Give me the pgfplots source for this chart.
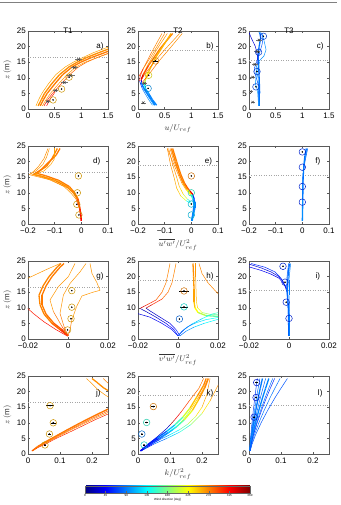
\documentclass[border=0pt]{standalone}
\usepackage{fontspec}
\setmainfont{Liberation Sans}
\usepackage{pgfplots}
\pgfplotsset{compat=1.18}

\tikzset{plab/.style={font=\fontsize{8}{9}\selectfont}}
\pgfplotsset{
  panel/.style={
    scale only axis, width=80pt, height=78pt,
    ymin=0, ymax=25, ytick={0,5,10,15,20,25},
    tick align=inside, major tick length=2pt,
    axis line style={black!65, line width=0.4pt},
    every tick/.style={black!65, line width=0.4pt},
    tick label style={font=\fontsize{8}{9}\selectfont},
    xticklabel style={inner sep=3.5pt},
    yticklabel style={inner sep=2pt},
    label style={font=\fontsize{8}{9}\selectfont, text=black!80},
    xlabel style={inner sep=1pt, yshift=-1pt},
    title style={font=\fontsize{8}{9}\selectfont, yshift=-12pt},
    scaled ticks=false,
    /pgf/number format/assume math mode=true,
    colormap/jet, point meta min=0, point meta max=360,
    anchor=south west,
  },
  rowU/.style={xmin=0, xmax=1.5, xtick={0,0.5,1,1.5}, xticklabels={0,0.5,1,1.5}},
  rowUW/.style={xmin=-0.2, xmax=0.1, xtick={-0.2,-0.1,0,0.1}, xticklabels={−0.2,−0.1,0,0.1}},
  rowVW/.style={xmin=-0.02, xmax=0.02, xtick={-0.02,0,0.02}, xticklabels={−0.02,0,0.02}},
  rowK/.style={xmin=0, xmax=0.25, xtick={0,0.1,0.2}, xticklabels={0,0.1,0.2}},
  cv/.style={mesh, shader=flat corner, point meta=explicit, line width=0.5pt, no markers},
  cvk/.style={cv, line width=1.3pt},
  hub/.style={black!35, dotted, line width=0.45pt, forget plot},
  obs/.style={scatter, only marks, mark=o, mark size=3.3pt, point meta=explicit,
    mark options={line width=0.5pt}},
  dot/.style={only marks, mark=*, mark size=0.55pt, black,
    error bars/.cd, x dir=both, x explicit, error mark=none,
    error bar style={black, line width=0.5pt}},
  cross/.style={only marks, mark=x, mark size=1.8pt, black!75,
    mark options={line width=0.5pt},
    error bars/.cd, x dir=both, x explicit, error mark=none,
    error bar style={black!55, line width=0.5pt}},
}

\begin{document}
\begin{tikzpicture}
\path[use as bounding box] (0pt,0pt) rectangle (340pt,505pt);
\draw[black!50, line width=0.6pt] (0pt,503pt) -- (337pt,503pt);

% ---------------- row 1: mean velocity ----------------
\begin{axis}[panel, rowU, at={(28pt,396pt)}, title={T1}, ylabel={$z\,(\mathrm{m})$}]
\addplot[hub] coordinates {(0,16.7) (1.5,16.7)};
\addplot[cv] coordinates {(0.15,1)[258] (0.20,3)[258] (0.26,5)[258] (0.38,8)[258] (0.52,11)[258] (0.70,13.5)[258] (0.85,15)[258] (1.03,16.5)[258] (1.22,18)[258] (1.45,19.5)[258] (1.7,21)[258]};
\addplot[cvk] coordinates {(0.19,1)[265] (0.25,3)[265] (0.31,5)[265] (0.44,8)[265] (0.59,11)[265] (0.77,13.5)[265] (0.92,15)[265] (1.10,16.5)[265] (1.32,18)[265] (1.55,19.5)[265]};
\addplot[cvk] coordinates {(0.23,1)[272] (0.29,3)[272] (0.36,5)[272] (0.50,8)[272] (0.65,11)[272] (0.83,13.5)[272] (0.99,15)[272] (1.19,16.5)[272] (1.43,18)[272] (1.65,19.5)[272]};
\addplot[cv] coordinates {(0.27,1)[262] (0.34,3)[262] (0.42,5)[262] (0.57,8)[262] (0.73,11)[262] (0.90,13.5)[262] (1.07,15)[262] (1.30,16.5)[262] (1.55,18)[262]};
\addplot[cv] coordinates {(0.30,1)[312] (0.37,3)[305] (0.46,5)[295] (0.62,8)[285] (0.78,11)[280] (0.95,13.5)[278] (1.10,15)[275] (1.30,16.5)[275] (1.52,18)[275]};
\addplot[cv] coordinates {(0.35,1)[318] (0.39,2.5)[312] (0.45,4)[300] (0.51,5.5)[290]};
\addplot[obs] coordinates {(0.47,2.9)[250] (0.63,6.4)[250] (0.77,10.2)[250]};
\addplot[dot] coordinates {(0.47,2.9) (0.63,6.4) (0.77,10.2)};
\addplot[cross] coordinates {(0.37,2.4) +- (0.04,0) (0.52,5.9) +- (0.05,0) (0.68,8.5) +- (0.07,0) (0.80,10.7) +- (0.08,0) (0.87,13.3) +- (0.06,0) (0.95,15.9) +- (0.06,0)};
\node[plab] at (rel axis cs:0.9,0.8) {a)};
\end{axis}

\begin{axis}[panel, rowU, at={(138pt,396pt)}, title={T2}, xlabel={$u/U_{ref}$}]
\addplot[hub] coordinates {(0,18.7) (1.5,18.7)};
\addplot[cv] coordinates {(0.27,1.2)[95] (0.20,3)[92] (0.13,5)[88] (0.08,6.5)[60] (0.05,8)[20] (0.03,9)[330] (0.04,10.5)[300] (0.10,13)[275] (0.25,18)[268] (0.45,24.2)[265]};
\addplot[cv] coordinates {(0.30,1.2)[100] (0.23,3)[97] (0.16,5)[95] (0.10,6.5)[120] (0.07,8)[160] (0.07,9.5)[215] (0.09,11)[250] (0.18,14)[262] (0.35,19)[262] (0.55,24.2)[262]};
\addplot[cvk] coordinates {(0.32,1.2)[90] (0.25,3)[90] (0.17,5)[88] (0.10,7)[85] (0.06,8.5)[40] (0.06,9.5)[330] (0.10,11)[290] (0.20,14)[272] (0.42,19.5)[270] (0.65,24.2)[270]};
\addplot[cvk] coordinates {(0.35,1.2)[92] (0.27,3)[92] (0.20,5)[100] (0.14,6.5)[140] (0.12,8)[200] (0.14,9.5)[235] (0.20,12)[250] (0.35,17)[252] (0.62,24.2)[252]};
\addplot[cv] coordinates {(0.05,9)[300] (0.12,11)[275] (0.30,15)[268] (0.50,19)[265] (0.78,24.2)[265]};
\addplot[cv] coordinates {(0.08,8.5)[290] (0.20,11)[275] (0.40,15.5)[268] (0.60,19.5)[265] (0.83,24.2)[265]};
\addplot[cv] coordinates {(0.02,10.5)[290] (0.10,13)[270] (0.25,17)[265] (0.50,24.2)[262]};
\addplot[obs] coordinates {(0.33,15.4)[262] (0.20,10.8)[230] (0.19,6.6)[100]};
\addplot[dot] coordinates {(0.33,15.4) +- (0.04,0) (0.20,10.8) +- (0,0) (0.19,6.6) +- (0,0)};
\addplot[cross] coordinates {(0.12,8.2) +- (0.04,0) (0.10,2.0) +- (0.05,0)};
\node[plab] at (rel axis cs:0.9,0.8) {b)};
\end{axis}

\begin{axis}[panel, rowU, at={(249pt,396pt)}, title={T3}]
\addplot[hub] coordinates {(0,15.7) (1.5,15.7)};
\addplot[cvk] coordinates {(0.20,1)[85] (0.20,5)[85] (0.19,10)[85] (0.18,14)[85] (0.17,17)[85] (0.19,20)[85] (0.22,23)[85] (0.20,24.5)[85]};
\addplot[cv] coordinates {(0.19,1)[95] (0.18,6)[95] (0.17,10)[95] (0.13,13)[95] (0.17,15)[95] (0.28,17)[95] (0.32,19)[95] (0.28,22)[95] (0.24,24.3)[95] (0.18,24.5)[95]};
\addplot[cv] coordinates {(0.18,1)[75] (0.17,8)[75] (0.12,11)[75] (0.10,13)[75] (0.14,15)[75] (0.20,18)[75] (0.25,21)[75] (0.26,23.5)[75] (0.20,24.2)[75]};
\addplot[cv] coordinates {(0.00,24.5)[30] (0.05,22.5)[30] (0.12,20)[30] (0.16,17)[30] (0.17,14)[30]};
\addplot[cv] coordinates {(0.18,1)[100] (0.16,6)[100] (0.12,8)[100] (0.14,12)[100] (0.20,15)[100]};
\addplot[obs] coordinates {(0.27,23.3)[70] (0.18,18.2)[70] (0.15,12.0)[70] (0.13,7.1)[70]};
\addplot[dot] coordinates {(0.27,23.3) (0.18,18.2) (0.15,12.0) (0.13,7.1)};
\addplot[cross] coordinates {(0.07,2.2) +- (0.04,0) (0.03,5.6) +- (0.04,0) (0.07,10.2) +- (0.05,0) (0.11,14.3) +- (0.05,0) (0.15,18.4) +- (0.06,0) (0.19,22.1) +- (0.06,0)};
\node[plab] at (rel axis cs:0.89,0.8) {c)};
\end{axis}

% ---------------- row 2: u'w' ----------------
\begin{axis}[panel, rowUW, at={(28pt,281pt)}, ylabel={$z\,(\mathrm{m})$}]
\addplot[hub] coordinates {(-0.2,16.7) (0.1,16.7)};
\addplot[cvk] coordinates {(0,1)[310] (-0.002,3)[300] (-0.006,5)[285] (-0.015,8)[272] (-0.03,10)[270] (-0.055,12)[268] (-0.10,14)[268] (-0.15,15.3)[268] (-0.18,15.9)[268] (-0.16,16.8)[268] (-0.13,18.5)[268] (-0.11,21)[268] (-0.09,24.2)[268]};
\addplot[cv] coordinates {(0,1)[305] (-0.003,3)[295] (-0.008,5)[280] (-0.02,8)[262] (-0.04,10)[262] (-0.065,12)[262] (-0.11,14)[262] (-0.16,15.3)[262] (-0.19,16.1)[262] (-0.17,17)[262] (-0.145,19)[262] (-0.13,21.5)[262] (-0.12,24.2)[262]};
\addplot[cvk] coordinates {(0,1)[315] (-0.002,3)[300] (-0.005,5)[285] (-0.012,8)[272] (-0.025,10)[272] (-0.045,12)[272] (-0.085,14)[272] (-0.135,15.5)[272] (-0.17,16.3)[272] (-0.15,17.5)[272] (-0.12,20)[272] (-0.095,22)[272] (-0.08,24.2)[272]};
\addplot[cv] coordinates {(-0.035,11)[258] (-0.08,13.5)[258] (-0.14,15.2)[258] (-0.175,16)[258] (-0.14,17)[258] (-0.115,19)[258] (-0.10,21)[258] (-0.10,24.2)[258]};
\addplot[cv] coordinates {(-0.02,9)[265] (-0.05,11.5)[265] (-0.12,14.2)[265] (-0.195,15.8)[265] (-0.18,16.8)[265] (-0.16,18.5)[265] (-0.14,21)[265] (-0.125,24.2)[265]};
\addplot[obs] coordinates {(-0.011,15.4)[250] (-0.015,10.0)[250] (-0.017,6.3)[250] (-0.009,2.9)[250]};
\addplot[dot] coordinates {(-0.011,15.4) (-0.015,10.0) (-0.017,6.3) (-0.009,2.9)};
\node[plab] at (rel axis cs:0.86,0.8) {d)};
\end{axis}

\begin{axis}[panel, rowUW, at={(138pt,281pt)}, xlabel={$\overline{u'w'}/U^2_{ref}$}]
\addplot[hub] coordinates {(-0.2,18.7) (0.1,18.7)};
\addplot[cv] coordinates {(0,1)[95] (0.005,3)[92] (0.01,5)[88] (0.012,7)[80] (0.01,8.5)[30] (0.005,9.5)[340] (-0.005,10.5)[300] (-0.02,12)[275] (-0.035,14)[270] (-0.05,17)[268] (-0.065,20)[268] (-0.08,24.2)[268]};
\addplot[cv] coordinates {(0.002,1)[90] (0.008,3)[90] (0.015,5)[90] (0.015,7)[100] (0.008,8.5)[180] (-0.005,9.5)[230] (-0.02,11)[255] (-0.035,13)[265] (-0.05,16)[268] (-0.07,20)[268] (-0.09,24.2)[268]};
\addplot[cv] coordinates {(0,7)[150] (-0.015,8)[210] (-0.03,9.5)[240] (-0.045,12)[255] (-0.055,15)[262] (-0.07,19)[265] (-0.085,24.2)[265]};
\addplot[cv] coordinates {(0,6.5)[140] (-0.02,7.5)[215] (-0.04,9)[245] (-0.055,11.5)[255] (-0.065,15)[262] (-0.078,19)[265] (-0.09,24.2)[265]};
\addplot[cvk] coordinates {(0.003,1)[100] (0.01,4)[95] (0.012,6)[85] (0.01,8)[60] (0.005,9.5)[320] (-0.01,11)[285] (-0.025,13)[272] (-0.04,16)[270] (-0.055,20)[270] (-0.07,24.2)[270]};
\addplot[cvk] coordinates {(0.001,1)[92] (0.007,4)[90] (0.01,6)[95] (0.006,8)[150] (-0.002,9.5)[230] (-0.015,11)[262] (-0.03,13)[268] (-0.045,16)[268] (-0.06,20)[268] (-0.075,24.2)[268]};
\addplot[obs] coordinates {(0,15.4)[268] (0,10.0)[150] (0,6.4)[125] (0,2.9)[120]};
\addplot[dot] coordinates {(0,15.4) (0,6.4)};
\node[plab] at (rel axis cs:0.88,0.8) {e)};
\end{axis}

\begin{axis}[panel, rowUW, at={(249pt,281pt)}]
\addplot[hub] coordinates {(-0.2,15.7) (0.1,15.7)};
\addplot[cvk] coordinates {(0,1)[85] (0.001,5)[85] (0.002,10)[85] (0.003,15)[85] (0.006,19)[85] (0.01,22)[85] (0.015,24.2)[85]};
\addplot[cv] coordinates {(0,1)[75] (0,10)[75] (0.003,16)[75] (0.01,20)[75] (0.02,24.2)[75]};
\addplot[cv] coordinates {(0,1)[95] (0,8)[95] (0.002,15)[95] (0.008,20)[95] (0.018,24.2)[95]};
\addplot[obs] coordinates {(0,23.1)[60] (0,18.2)[60] (0,12.0)[60] (0,7.0)[60]};
\addplot[dot] coordinates {(0,23.1)};
\node[plab] at (rel axis cs:0.86,0.8) {f)};
\end{axis}

% ---------------- row 3: v'w' ----------------
\begin{axis}[panel, rowVW, at={(28pt,166pt)}, ylabel={$z\,(\mathrm{m})$}]
\addplot[hub] coordinates {(-0.02,16.7) (0.02,16.7)};
\addplot[cv] coordinates {(-0.0005,1)[312] (-0.006,3)[310] (-0.012,5.5)[308] (-0.017,8)[305] (-0.021,10.3)[305]};
\addplot[cvk] coordinates {(0,1)[300] (-0.003,3)[285] (-0.007,5)[275] (-0.011,8)[272] (-0.013,11)[272] (-0.013,14)[272] (-0.011,17)[272] (-0.008,20)[272] (-0.004,23)[272] (-0.002,24.2)[272]};
\addplot[cvk] coordinates {(0,1)[295] (-0.004,3)[280] (-0.008,5)[270] (-0.012,8)[268] (-0.014,11)[268] (-0.0145,14)[268] (-0.0125,17)[268] (-0.0095,20)[268] (-0.0055,23)[268] (-0.0035,24.2)[268]};
\addplot[cv] coordinates {(-0.021,19.2)[262] (-0.015,21)[262] (-0.01,22.5)[262] (-0.006,23.6)[262] (-0.004,24.2)[262]};
\addplot[cv] coordinates {(0,1)[290] (-0.003,4)[275] (-0.0073,8.8)[262] (-0.009,12.5)[262] (-0.0048,16.8)[262] (0.0002,20)[262] (0.0035,24.2)[262]};
\addplot[cv] coordinates {(0,1)[285] (-0.002,4)[272] (-0.004,8.2)[262] (-0.0023,14.1)[262] (0.001,17.8)[262] (0.006,21.5)[262] (0.009,24.2)[262]};
\addplot[cv] coordinates {(0,1)[280] (0.001,3)[270] (0.0019,6)[262] (0.0043,10.4)[262] (0.007,13.8)[262] (0.0125,15)[262] (0.016,15.6)[262] (0.0145,18)[262] (0.012,21)[262] (0.011,24.2)[262]};
\addplot[obs] coordinates {(0.0019,15.5)[250] (0.0019,10.2)[250] (0.0015,6.5)[250] (-0.0002,2.9)[250]};
\addplot[dot] coordinates {(0.0019,15.5) (0.0019,10.2) (0.0015,6.5) (-0.0002,2.9)};
\node[plab] at (rel axis cs:0.9,0.8) {g)};
\end{axis}

\begin{axis}[panel, rowVW, at={(138pt,166pt)}, xlabel={$\overline{v'w'}/U^2_{ref}$}]
\addplot[hub] coordinates {(-0.02,18.7) (0.02,18.7)};
\addplot[cv] coordinates {(0,1)[60] (-0.002,3)[45] (-0.006,5)[30] (-0.011,7)[25] (-0.016,8.8)[20] (-0.019,9.8)[330] (-0.016,10.8)[300] (-0.011,12.5)[280] (-0.008,15)[272] (-0.006,18)[270] (-0.005,21)[268] (-0.004,24.2)[268]};
\addplot[cv] coordinates {(0.001,1)[55] (-0.001,3)[40] (-0.004,5)[30] (-0.009,7)[25] (-0.014,9)[20] (-0.016,9.9)[330] (-0.013,11)[300] (-0.008,12.8)[280] (-0.005,15)[272] (-0.003,18)[270] (-0.002,21)[268] (-0.001,24.2)[268]};
\addplot[cv] coordinates {(0,1)[50] (-0.003,3)[45] (-0.008,5)[40] (-0.014,7)[35] (-0.021,8.3)[35]};
\addplot[cvk] coordinates {(0.0075,24.2)[265] (0.0078,20)[262] (0.008,16)[258] (0.008,12)[245] (0.0085,10)[225] (0.01,8.5)[200] (0.014,7.5)[170] (0.021,7.2)[155]};
\addplot[cv] coordinates {(0.0088,24.2)[262] (0.0088,20)[258] (0.009,16)[252] (0.0092,12)[240] (0.0098,10)[220] (0.012,8.5)[195] (0.016,7.9)[170] (0.021,7.8)[160]};
\addplot[cv] coordinates {(0.0105,24.2)[268] (0.012,21)[268] (0.015,18)[268] (0.019,15.2)[268] (0.021,14)[268]};
\addplot[cv] coordinates {(0,1)[80] (0.002,2.5)[90] (0.005,4)[110] (0.009,5.2)[125] (0.014,6.2)[135] (0.021,7)[140]};
\addplot[cv] coordinates {(0.001,1)[85] (0.004,2.5)[100] (0.008,3.8)[120] (0.013,5)[135] (0.021,6.5)[145]};
\addplot[cv] coordinates {(0,1)[75] (0.003,3)[90] (0.007,4.8)[115] (0.012,6.5)[140] (0.017,8)[155] (0.021,8.6)[160]};
\addplot[obs] coordinates {(0.003,15.4)[268] (0.003,10.3)[140] (0.0007,6.4)[85]};
\addplot[dot] coordinates {(0.003,15.4) +- (0.0025,0) (0.003,10.3) +- (0.0022,0) (0.0007,6.4) +- (0,0)};
\node[plab] at (rel axis cs:0.9,0.8) {h)};
\end{axis}

\begin{axis}[panel, rowVW, at={(249pt,166pt)}]
\addplot[hub] coordinates {(-0.02,15.7) (0.02,15.7)};
\addplot[cv] coordinates {(-0.021,24.2)[30] (-0.014,22.8)[30] (-0.009,21.5)[30] (-0.005,20)[30] (-0.003,18.5)[30] (-0.002,17)[30] (-0.001,15)[30]};
\addplot[cv] coordinates {(-0.021,23.3)[40] (-0.014,22)[40] (-0.009,20.8)[40] (-0.005,19.5)[40] (-0.003,18)[40] (-0.001,16)[40]};
\addplot[cv] coordinates {(-0.019,24.2)[60] (-0.012,23)[60] (-0.007,21.5)[60] (-0.004,19.5)[60] (-0.002,17)[60]};
\addplot[cvk] coordinates {(0,1)[85] (0,5)[85] (-0.0003,10)[85] (-0.0008,15)[85] (-0.0005,20)[85] (0.0002,24.2)[85]};
\addplot[cv] coordinates {(0.0003,1)[90] (0.0003,8)[90] (0,14)[90] (0,19)[90] (0.0008,24.2)[90]};
\addplot[cv] coordinates {(-0.0003,1)[78] (-0.0005,10)[78] (-0.0012,16)[78] (-0.001,20)[78] (-0.0002,24.2)[78]};
\addplot[obs] coordinates {(-0.003,23.3)[60] (-0.002,18.2)[60] (-0.0014,11.8)[60] (0,6.6)[60]};
\addplot[dot] coordinates {(-0.003,23.3) (-0.002,18.2) (-0.0014,11.8)};
\node[plab] at (rel axis cs:0.86,0.8) {i)};
\end{axis}

% ---------------- row 4: turbulent kinetic energy ----------------
\begin{axis}[panel, rowK, at={(28pt,51pt)}, ylabel={$z\,(\mathrm{m})$}]
\addplot[hub] coordinates {(0,16.7) (0.25,16.7)};
\addplot[cv] coordinates {(0.012,1)[285] (0.03,2.2)[285] (0.06,3.9)[285] (0.09,5.6)[285] (0.12,7.2)[285] (0.16,9.3)[285] (0.2,11.4)[285] (0.25,13.8)[285]};
\addplot[cvk] coordinates {(0.013,1)[275] (0.03,2.4)[275] (0.06,4.2)[275] (0.09,5.9)[275] (0.12,7.6)[275] (0.16,9.8)[275] (0.2,11.9)[275] (0.25,14.4)[275]};
\addplot[cv] coordinates {(0.015,1)[265] (0.035,2.5)[265] (0.065,4.1)[265] (0.1,5.9)[265] (0.13,7.5)[265] (0.17,9.5)[265] (0.21,11.5)[265] (0.25,13.3)[265]};
\addplot[cv] coordinates {(0.012,1)[300] (0.03,2)[300] (0.06,3.5)[300] (0.09,5.1)[300] (0.13,7)[300] (0.17,9)[300] (0.21,11)[300] (0.25,12.8)[300]};
\addplot[cv] coordinates {(0.014,1)[270] (0.04,3)[270] (0.07,4.8)[270] (0.1,6.5)[270] (0.14,8.6)[270] (0.18,10.8)[270] (0.22,12.8)[270] (0.25,14.3)[270]};
\addplot[cv] coordinates {(0.183,24.2)[262] (0.2,22.5)[262] (0.22,20.5)[262] (0.24,19)[262] (0.255,18)[262]};
\addplot[cvk] coordinates {(0.2,24.2)[265] (0.215,23)[265] (0.235,21.3)[265] (0.255,20)[265]};
\addplot[cv] coordinates {(0.235,24.2)[270] (0.245,23.2)[270] (0.255,22.3)[270]};
\addplot[obs] coordinates {(0.069,15.5)[250] (0.079,10.0)[250] (0.067,6.4)[250] (0.053,2.9)[250]};
\addplot[dot] coordinates {(0.069,15.5) +- (0.012,0) (0.079,10.0) +- (0.008,0) (0.067,6.4) +- (0.006,0) (0.053,2.9) +- (0.004,0)};
\node[plab] at (rel axis cs:0.88,0.78) {j)};
\end{axis}

\begin{axis}[panel, rowK, at={(138pt,51pt)}, xlabel={$k/U^2_{ref}$}]
\addplot[hub] coordinates {(0,18.7) (0.25,18.7)};
\addplot[cv] coordinates {(0.008,1)[30] (0.03,3)[28] (0.06,5.5)[25] (0.09,8.2)[20] (0.1,9.3)[345] (0.115,11)[320] (0.135,13.5)[295] (0.16,17)[280] (0.19,21)[272] (0.205,24.2)[270]};
\addplot[cv] coordinates {(0.008,1)[50] (0.04,3)[70] (0.07,4.7)[100] (0.1,6.2)[130] (0.13,7.8)[165] (0.155,9.5)[200] (0.18,12)[235] (0.2,15)[255] (0.215,19)[265] (0.225,24.2)[268]};
\addplot[cvk] coordinates {(0.008,1)[45] (0.035,3.1)[60] (0.065,5)[90] (0.095,6.9)[125] (0.12,8.7)[165] (0.145,11)[215] (0.17,14)[245] (0.19,17.5)[262] (0.21,21.5)[268] (0.22,24.2)[270]};
\addplot[cvk] coordinates {(0.008,1)[40] (0.033,3.2)[55] (0.06,5.2)[80] (0.09,7.3)[115] (0.115,9.3)[160] (0.14,11.8)[210] (0.163,14.8)[245] (0.185,18.5)[262] (0.205,22)[268] (0.213,24.2)[270]};
\addplot[cv] coordinates {(0.01,1)[60] (0.05,3.2)[85] (0.09,5)[120] (0.13,7)[150] (0.165,9.4)[190] (0.2,13)[235] (0.225,17)[258] (0.245,21)[265] (0.255,23)[268]};
\addplot[cv] coordinates {(0.009,1)[45] (0.045,3.3)[65] (0.08,5.6)[105] (0.11,7.8)[150] (0.135,10.2)[195] (0.16,13.5)[240] (0.185,17.5)[260] (0.205,21)[266] (0.218,24.2)[268]};
\addplot[obs] coordinates {(0.048,15.2)[265] (0.027,10.1)[150] (0.012,6.4)[90] (0.019,2.9)[140]};
\addplot[dot] coordinates {(0.048,15.2) +- (0.006,0) (0.027,10.1) +- (0.004,0) (0.012,6.4) +- (0.004,0) (0.019,2.9) +- (0.004,0)};
\node[plab] at (rel axis cs:0.9,0.78) {k)};
\end{axis}

\begin{axis}[panel, rowK, at={(249pt,51pt)}]
\addplot[hub] coordinates {(0,15.7) (0.25,15.7)};
\addplot[cv] coordinates {(0.0023,1)[70] (0.0034,3)[70] (0.0056,6)[70] (0.0093,10)[70] (0.0135,14)[70] (0.0181,18)[70] (0.0218,21)[70] (0.026,24.2)[70]};
\addplot[cv] coordinates {(0.0024,1)[85] (0.0039,3)[85] (0.0069,6)[85] (0.0117,10)[85] (0.0173,14)[85] (0.0234,18)[85] (0.0284,21)[85] (0.034,24.2)[85]};
\addplot[cvk] coordinates {(0.0025,1)[88] (0.0044,3)[88] (0.0081,6)[88] (0.0141,10)[88] (0.0211,14)[88] (0.0288,18)[88] (0.035,21)[88] (0.042,24.2)[88]};
\addplot[cv] coordinates {(0.0027,1)[80] (0.005,3)[80] (0.0096,6)[80] (0.0172,10)[80] (0.0259,14)[80] (0.0355,18)[80] (0.0433,21)[80] (0.052,24.2)[80]};
\addplot[cvk] coordinates {(0.0028,1)[92] (0.0056,3)[92] (0.0111,6)[92] (0.0202,10)[92] (0.0307,14)[92] (0.0422,18)[92] (0.0516,21)[92] (0.062,24.2)[92]};
\addplot[cv] coordinates {(0.003,1)[85] (0.0063,3)[85] (0.0129,6)[85] (0.0238,10)[85] (0.0364,14)[85] (0.0502,18)[85] (0.0615,21)[85] (0.074,24.2)[85]};
\addplot[cv] coordinates {(0.0031,1)[60] (0.0067,3)[60] (0.0139,6)[60] (0.0256,10)[60] (0.0393,14)[60] (0.0543,18)[60] (0.0664,21)[60] (0.08,24.2)[60]};
\addplot[cv] coordinates {(0.0033,1)[85] (0.0077,3)[85] (0.0164,6)[85] (0.0308,10)[85] (0.0474,14)[85] (0.0657,18)[85] (0.0805,21)[85] (0.097,24.2)[85]};
\addplot[cv] coordinates {(0.0036,1)[75] (0.0091,3)[75] (0.0199,6)[75] (0.0378,10)[75] (0.0584,14)[75] (0.081,18)[75] (0.0995,21)[75] (0.12,24.2)[75]};
\addplot[obs] coordinates {(0.024,22.9)[55] (0.022,18.1)[55] (0.016,11.8)[55]};
\addplot[dot] coordinates {(0.024,22.9) +- (0.004,0) (0.022,18.1) +- (0.004,0) (0.016,11.8) +- (0.004,0)};
\node[plab] at (rel axis cs:0.89,0.78) {l)};
\end{axis}

% ---------------- colour scale: wind direction ----------------
\begin{axis}[at={(85pt,12pt)}, anchor=south west, hide axis, scale only axis,
  width=165pt, height=7pt, xmin=0, xmax=1, ymin=0, ymax=1,
  colormap/jet, point meta min=0, point meta max=360,
  colorbar horizontal,
  colorbar style={at={(0,0)}, anchor=south west, width=165pt, height=7pt,
    xtick={0,45,90,135,180,225,270,315,360}, scaled ticks=false,
    tick align=inside, major tick length=1.5pt,
    every tick/.style={black!60, line width=0.3pt},
    axis line style={black!60, line width=0.3pt},
    xticklabel style={font=\fontsize{3}{3.5}\selectfont, inner sep=1pt},
    /pgf/number format/assume math mode=true,
    xlabel={Wind direction [deg]},
    xlabel style={font=\fontsize{3}{3.5}\selectfont, inner sep=0.5pt}}]
\addplot[draw=none] coordinates {(0,0)};
\end{axis}
\end{tikzpicture}
\end{document}
